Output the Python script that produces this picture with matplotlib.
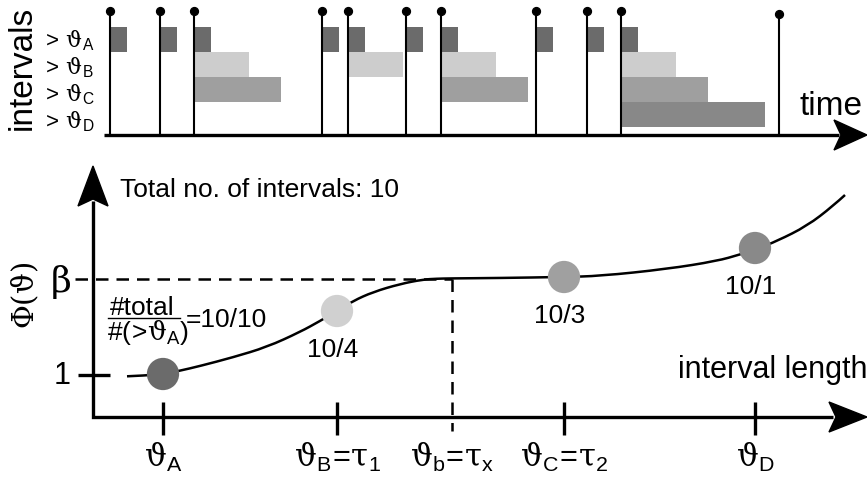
import matplotlib
matplotlib.use("Agg")
import matplotlib.pyplot as plt
from matplotlib.path import Path
from matplotlib.patches import PathPatch

plt.rcParams['font.family'] = ['Liberation Sans', 'DejaVu Sans']
plt.rcParams['mathtext.fontset'] = 'custom'
plt.rcParams['mathtext.rm'] = 'DejaVu Serif'
plt.rcParams['mathtext.sf'] = 'Liberation Sans'
plt.rcParams['mathtext.it'] = 'DejaVu Serif:italic'
plt.rcParams['mathtext.bf'] = 'DejaVu Serif:bold'

# ---------------- data ----------------
# top panel: event times (time units) and the height of each event marker
event_times = [6, 56, 90, 218, 244, 302, 337, 432, 483, 517, 675]
event_tops = [12, 12, 12, 12, 12, 12, 12, 12, 12, 12, 15]
row_names = ['A', 'B', 'C', 'D']
row_thresholds = [17, 55, 87, 144]          # threshold length per row (time units)
row_colors = ['#6b6b6b', '#cdcdcd', '#9f9f9f', '#888888']

# bottom panel: threshold positions on the interval-length axis
theta_pos = [70, 244, 359, 471, 662]
theta_labels = [r'$\mathrm{ϑ}_\mathsf{A}$',
                r'$\mathrm{ϑ}_\mathsf{B}\!\mathsf{=}\!\mathrm{τ}_\mathsf{1}$',
                r'$\mathrm{ϑ}_\mathsf{b}\!\mathsf{=}\!\mathrm{τ}_\mathsf{x}$',
                r'$\mathrm{ϑ}_\mathsf{C}\!\mathsf{=}\!\mathrm{τ}_\mathsf{2}$',
                r'$\mathrm{ϑ}_\mathsf{D}$']
circle_theta = [70, 244, 471, 662]
circle_phi = [43, 106, 140, 169]
circle_colors = ['#6b6b6b', '#d0d0d0', '#a0a0a0', '#898989']
total_intervals = 10
phi_one = 42
phi_beta = 138
# schematic curve Phi(theta)
curve_x = [34, 52, 70, 87, 107, 140, 174, 207, 227, 244, 260, 280, 307, 330,
           344, 357, 407, 470, 507, 574, 624, 647, 665, 684, 714, 740, 752]
curve_y = [40.7, 41.5, 43, 46.3, 51, 59.7, 70, 85, 96, 106, 116, 125, 133, 137.5,
           138.3, 138.6, 139, 140, 141, 148, 156, 162.5, 168.5, 176, 191, 211, 222]

# ---------------- figure ----------------
fig = plt.figure(figsize=(8.67, 4.81), dpi=100)
axt = fig.add_axes([0, 0, 1, 1])
axt.set_xlim(-104, 763)
axt.set_ylim(481, 0)
axt.axis('off')
axb = fig.add_axes([0, 0, 1, 1])
axb.set_xlim(-93, 774)
axb.set_ylim(-63, 418)
axb.axis('off')
axb.patch.set_alpha(0)

# ---- top panel ----
axis_y = 136
axt.plot([0, 735], [axis_y, axis_y], color='black', lw=2.4, solid_capstyle='butt', zorder=4)
axt.fill([763, 730, 737, 730], [axis_y, axis_y - 15, axis_y, axis_y + 15], color='black', zorder=4)

intervals = [b - a for a, b in zip(event_times[:-1], event_times[1:])]
for i, (th, col) in enumerate(zip(row_thresholds, row_colors)):
    starts = [t for t, L in zip(event_times[:-1], intervals) if L > th]
    axt.barh([28 + 25 * i + 12.5] * len(starts), [th] * len(starts), left=starts,
             height=25, color=col, zorder=1)
    axt.text(-63, 47 + 27 * i, r'$\mathsf{>}\,\mathrm{ϑ}_\mathsf{%s}$' % row_names[i],
             fontsize=16, ha='left', va='baseline')

axt.vlines(event_times, event_tops, axis_y, color='black', lw=1.5, zorder=2)
axt.scatter(event_times, event_tops, s=32, color='black', zorder=3)

axt.text(-82, 68, 'intervals', rotation=90, fontsize=24, ha='center', va='center')
axt.text(696, 115, 'time', fontsize=24, ha='left', va='baseline')

# ---- bottom panel ----
axb.plot([0, 0, 740], [216, 0, 0], color='black', lw=2.4, solid_joinstyle='miter',
         solid_capstyle='butt', zorder=4)
axb.fill([0, -15, 0, 15], [251, 211, 218, 211], color='black', zorder=4)
axb.fill([774, 736, 743, 736], [0, 15, 0, -15], color='black', zorder=4)

# y ticks
axb.plot([-15, 17], [phi_one, phi_one], color='black', lw=2.4, solid_capstyle='butt')
axb.text(-31, phi_one, '1', fontsize=22, ha='center', va='center')
axb.plot([-18, theta_pos[2]], [phi_beta, phi_beta], color='black', lw=1.8,
         dashes=(5, 3.2))
axb.plot([theta_pos[2], theta_pos[2]], [phi_beta, -14], color='black', lw=1.8,
         dashes=(5, 3.2))
axb.text(-32, phi_beta - 2, r'$\mathrm{β}$', fontsize=26, ha='center', va='center')
axb.text(-68, 123, r'$\mathrm{Φ(ϑ)}$', fontsize=21, rotation=90, ha='center', va='center')

# x ticks
for k, (xp, lab) in enumerate(zip(theta_pos, theta_labels)):
    if k != 2:
        axb.plot([xp, xp], [15, -18], color='black', lw=2.4, solid_capstyle='butt')
    axb.text(xp, -49, lab, fontsize=22, ha='center', va='baseline')

axb.text(774, 40, 'interval length', fontsize=22, ha='right', va='baseline')

# curve (smooth quadratic B-spline path through the read points) and circles
pts = list(zip(curve_x, curve_y))
verts = [pts[0]]
codes = [Path.MOVETO]
for i in range(1, len(pts) - 2):
    mid = ((pts[i][0] + pts[i + 1][0]) / 2, (pts[i][1] + pts[i + 1][1]) / 2)
    verts += [pts[i], mid]
    codes += [Path.CURVE3, Path.CURVE3]
verts += [pts[-2], pts[-1]]
codes += [Path.CURVE3, Path.CURVE3]
axb.add_patch(PathPatch(Path(verts, codes), fill=False, edgecolor='black', lw=1.8, zorder=2))
axb.scatter(circle_theta, circle_phi, s=540, c=circle_colors, linewidths=0, zorder=3)

# annotations
axb.text(27, 228, 'Total no. of intervals: %d' % total_intervals, fontsize=19,
         ha='left', va='center')
axb.text(17, 103, '#total', fontsize=19, ha='left', va='baseline')
axb.plot([15, 87], [99, 99], color='black', lw=1.0)
axb.text(14, 78, r'$\mathsf{\#(}\!\mathsf{>}\!\mathrm{ϑ}_\mathsf{A}\mathsf{)}$', fontsize=19,
         ha='left', va='baseline')
counts = [sum(1 for L in intervals if L > th) for th in row_thresholds]
axb.text(93, 91, '=%d/%d' % (total_intervals, counts[0]), fontsize=19, ha='left', va='baseline')
for xp, yp, c in zip(circle_theta[1:], circle_phi[1:], counts[1:]):
    axb.text(xp - 4, yp - 38, '%d/%d' % (total_intervals, c), fontsize=19,
             ha='center', va='center')

fig.savefig('out.png', dpi=100)
